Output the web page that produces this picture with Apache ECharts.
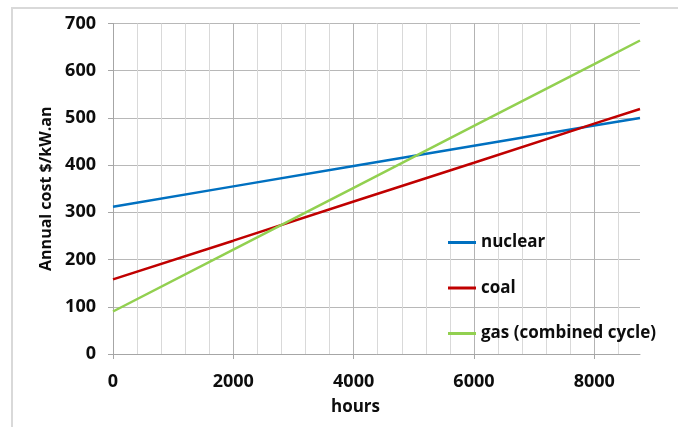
<!DOCTYPE html>
<html>
<head>
<meta charset="utf-8">
<script src="https://cdn.jsdelivr.net/npm/echarts@6/dist/echarts.min.js"></script>
<style>
html,body{margin:0;padding:0;background:#fff;}
#c{width:678px;height:427px;}
</style>
</head>
<body>
<div id="c"></div>
<script>
// Data
const hours = [0, 2000, 4000, 6000, 8000, 8760];
const nuclear = [312, 355, 398, 441, 484, 500];
const coal = [158, 240, 323, 405, 488, 519];
const gas = [90, 221, 352, 483, 614, 664];
const seriesNames = ['nuclear', 'coal', 'gas (combined cycle)'];
const majorTicks = [0, 2000, 4000, 6000, 8000];
const minorTicks = [400, 800, 1200, 1600, 2400, 2800, 3200, 3600, 4400, 4800, 5200, 5600, 6400, 6800, 7200, 7600, 8400];

const pair = (ys) => hours.map((h, i) => [h, ys[i]]);
const font = '"Open Sans", "Liberation Sans", sans-serif';
const chart = echarts.init(document.getElementById('c'), null, {renderer: 'canvas'});
chart.setOption({
  animation: false,
  backgroundColor: '#fff',
  graphic: [{
    type: 'rect', silent: true, z: -10,
    shape: {x: 12, y: 8, width: 720, height: 500},
    style: {fill: 'none', stroke: '#d9d9d9', lineWidth: 2}
  }],
  grid: {left: 113, top: 23.5, right: 38, bottom: 73},
  legend: {
    orient: 'vertical', left: 443, top: 229, itemGap: 28.5,
    icon: 'rect', itemWidth: 28, itemHeight: 3,
    textStyle: {fontFamily: font, fontWeight: 'bold', fontSize: 17, color: '#0d0d0d'},
    data: seriesNames
  },
  xAxis: [{
    type: 'value', min: 0, max: 8760,
    name: 'hours', nameLocation: 'middle', nameGap: 45,
    nameTextStyle: {fontFamily: font, fontWeight: 'bold', fontSize: 17, color: '#0d0d0d', padding: [0, 42, 0, 0]},
    axisLine: {show: true, lineStyle: {color: '#a6a6a6', width: 1}},
    axisTick: {show: true, length: 5, customValues: majorTicks, lineStyle: {color: '#a6a6a6'}},
    axisLabel: {customValues: majorTicks, margin: 19, formatter: (v) => String(v), fontFamily: font, fontWeight: 'bold', fontSize: 18, color: '#0d0d0d'},
    splitLine: {show: true, lineStyle: {color: '#b3b3b3', width: 1}}
  }, {
    type: 'value', min: 0, max: 8760, position: 'bottom',
    axisLine: {show: false}, axisTick: {show: false, customValues: minorTicks},
    axisLabel: {show: false, customValues: minorTicks},
    splitLine: {show: true, lineStyle: {color: '#d9d9d9', width: 1}}
  }],
  yAxis: {
    type: 'value', min: 0, max: 700, interval: 100,
    name: 'Annual cost $/kW.an', nameLocation: 'middle', nameGap: 59,
    nameTextStyle: {fontFamily: font, fontWeight: 'bold', fontSize: 16, color: '#0d0d0d'},
    axisLine: {show: true, lineStyle: {color: '#a6a6a6', width: 1}},
    axisTick: {show: true, length: 5, lineStyle: {color: '#a6a6a6'}},
    axisLabel: {margin: 17, fontFamily: font, fontWeight: 'bold', fontSize: 18, color: '#0d0d0d'},
    splitLine: {show: true, lineStyle: {color: '#b8b8b8', width: 1}}
  },
  series: [
    {name: seriesNames[0], type: 'line', xAxisIndex: 0, data: pair(nuclear), symbol: 'none', lineStyle: {color: '#0070c0', width: 2.5}, itemStyle: {color: '#0070c0'}},
    {name: seriesNames[1], type: 'line', xAxisIndex: 0, data: pair(coal), symbol: 'none', lineStyle: {color: '#c00000', width: 2.5}, itemStyle: {color: '#c00000'}},
    {name: seriesNames[2], type: 'line', xAxisIndex: 0, data: pair(gas), symbol: 'none', lineStyle: {color: '#92d050', width: 2.5}, itemStyle: {color: '#92d050'}}
  ]
});
</script>
</body>
</html>
